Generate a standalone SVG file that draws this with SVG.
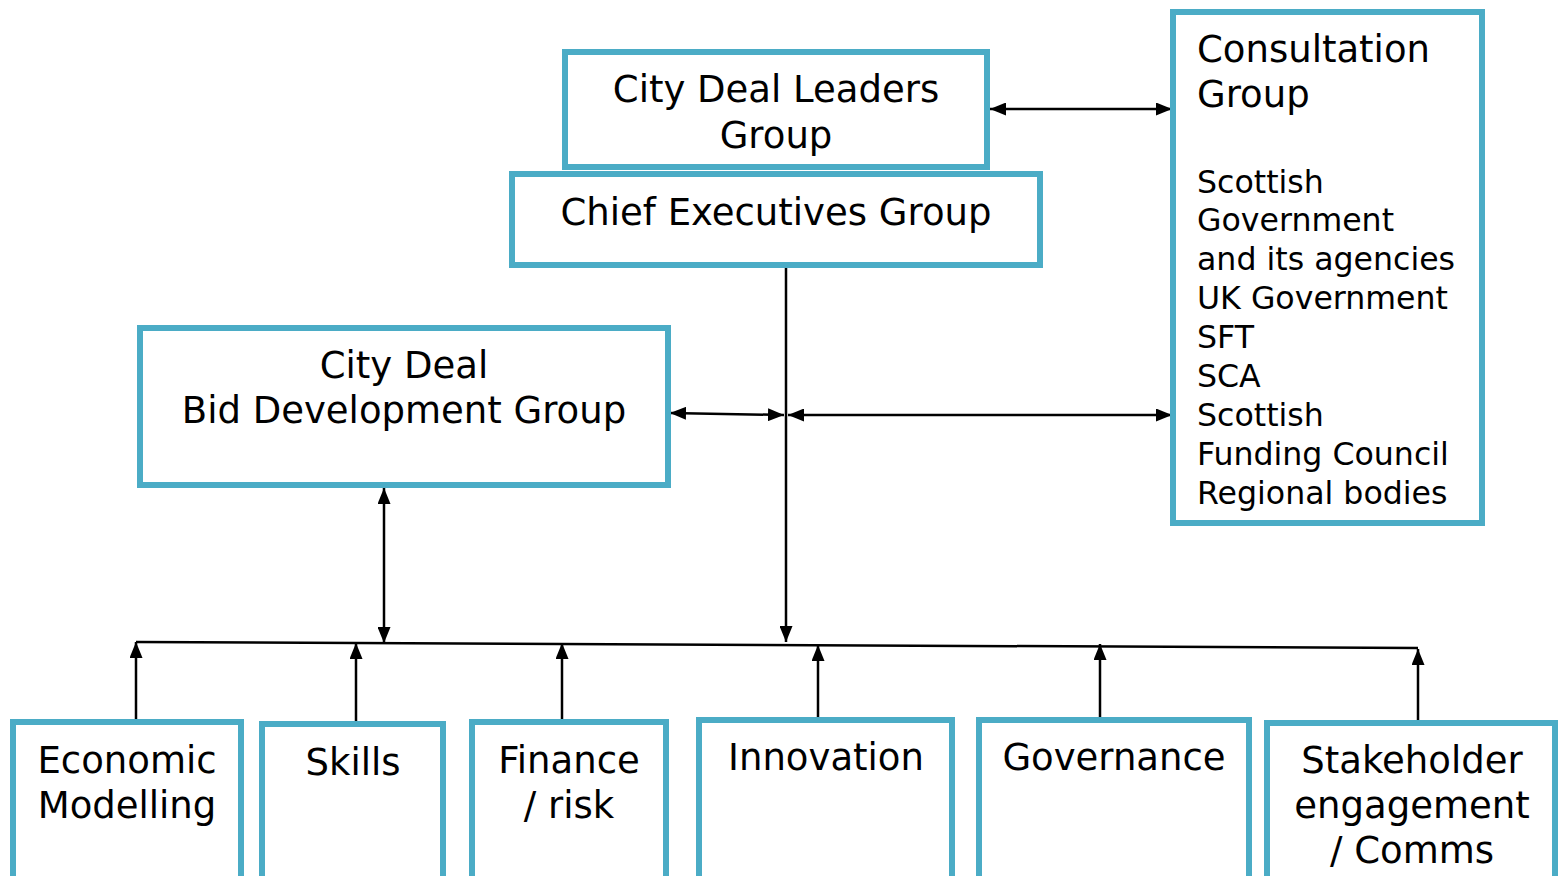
<svg xmlns="http://www.w3.org/2000/svg" width="1558" height="876" viewBox="0 0 1558 876">
<defs>
<marker id="ah" viewBox="0 0 16 13" refX="16" refY="6.5" markerWidth="16" markerHeight="13" markerUnits="userSpaceOnUse" orient="auto-start-reverse">
<path d="M0,0 L16,6.5 L0,13 z" fill="#000"/>
</marker>
<style>
.box{fill:#fff;stroke:#4BACC6;stroke-width:6}
.t{font-family:"DejaVu Sans",Verdana,sans-serif;font-size:37px;fill:#000}
.s{font-family:"DejaVu Sans",Verdana,sans-serif;font-size:31.6px;fill:#000}
.c{text-anchor:middle}
.ln{stroke:#000;stroke-width:2.5;fill:none}
.a1{marker-end:url(#ah)}
.a2{marker-start:url(#ah);marker-end:url(#ah)}
</style>
</defs>
<rect width="1558" height="876" fill="#fff"/>
<g id="connectors">
<line class="ln a2" x1="990" y1="109" x2="1172" y2="109"/>
<line class="ln a1" x1="786" y1="266" x2="786" y2="642"/>
<line class="ln a2" x1="670" y1="413" x2="784" y2="415"/>
<line class="ln a2" x1="788" y1="415" x2="1172" y2="415"/>
<line class="ln a2" x1="384" y1="488" x2="384" y2="643"/>
<line class="ln" x1="136" y1="642" x2="1418" y2="648"/>
<line class="ln a1" x1="136" y1="720" x2="136" y2="642"/>
<line class="ln a1" x1="356" y1="722" x2="356" y2="643"/>
<line class="ln a1" x1="562" y1="720" x2="562" y2="643"/>
<line class="ln a1" x1="818" y1="718" x2="818" y2="645"/>
<line class="ln a1" x1="1100" y1="718" x2="1100" y2="644"/>
<line class="ln a1" x1="1418" y1="722" x2="1418" y2="649"/>
</g>
<g id="leaders">
<rect class="box" x="565" y="52" width="422" height="115"/>
<text class="t c" x="776" y="102">City Deal Leaders</text>
<text class="t c" x="776" y="148">Group</text>
</g>
<g id="chief">
<rect class="box" x="512" y="174" width="528" height="91"/>
<text class="t c" x="776" y="225">Chief Executives Group</text>
</g>
<g id="consultation">
<rect class="box" x="1173" y="12" width="309" height="511"/>
<text class="t" x="1197" y="62">Consultation</text>
<text class="t" x="1197" y="107">Group</text>
<text class="s" x="1197" y="193">Scottish</text>
<text class="s" x="1197" y="231">Government</text>
<text class="s" x="1197" y="270">and its agencies</text>
<text class="s" x="1197" y="309">UK Government</text>
<text class="s" x="1197" y="348">SFT</text>
<text class="s" x="1197" y="387">SCA</text>
<text class="s" x="1197" y="426">Scottish</text>
<text class="s" x="1197" y="465">Funding Council</text>
<text class="s" x="1197" y="504">Regional bodies</text>
</g>
<g id="biddev">
<rect class="box" x="140" y="328" width="528" height="157"/>
<text class="t c" x="404" y="378">City Deal</text>
<text class="t c" x="404" y="423">Bid Development Group</text>
</g>
<g id="economic">
<rect class="box" x="13" y="722" width="228" height="170"/>
<text class="t c" x="127" y="773">Economic</text>
<text class="t c" x="127" y="818">Modelling</text>
</g>
<g id="skills">
<rect class="box" x="262" y="724" width="181" height="170"/>
<text class="t c" x="353" y="775">Skills</text>
</g>
<g id="finance">
<rect class="box" x="472" y="722" width="194" height="170"/>
<text class="t c" x="569" y="773">Finance</text>
<text class="t c" x="569" y="818">/ risk</text>
</g>
<g id="innovation">
<rect class="box" x="699" y="720" width="253" height="170"/>
<text class="t c" x="826" y="770">Innovation</text>
</g>
<g id="governance">
<rect class="box" x="979" y="720" width="270" height="170"/>
<text class="t c" x="1114" y="770">Governance</text>
</g>
<g id="stakeholder">
<rect class="box" x="1267" y="723" width="288" height="170"/>
<text class="t c" x="1412" y="773">Stakeholder</text>
<text class="t c" x="1412" y="818">engagement</text>
<text class="t c" x="1412" y="863">/ Comms</text>
</g>
</svg>
